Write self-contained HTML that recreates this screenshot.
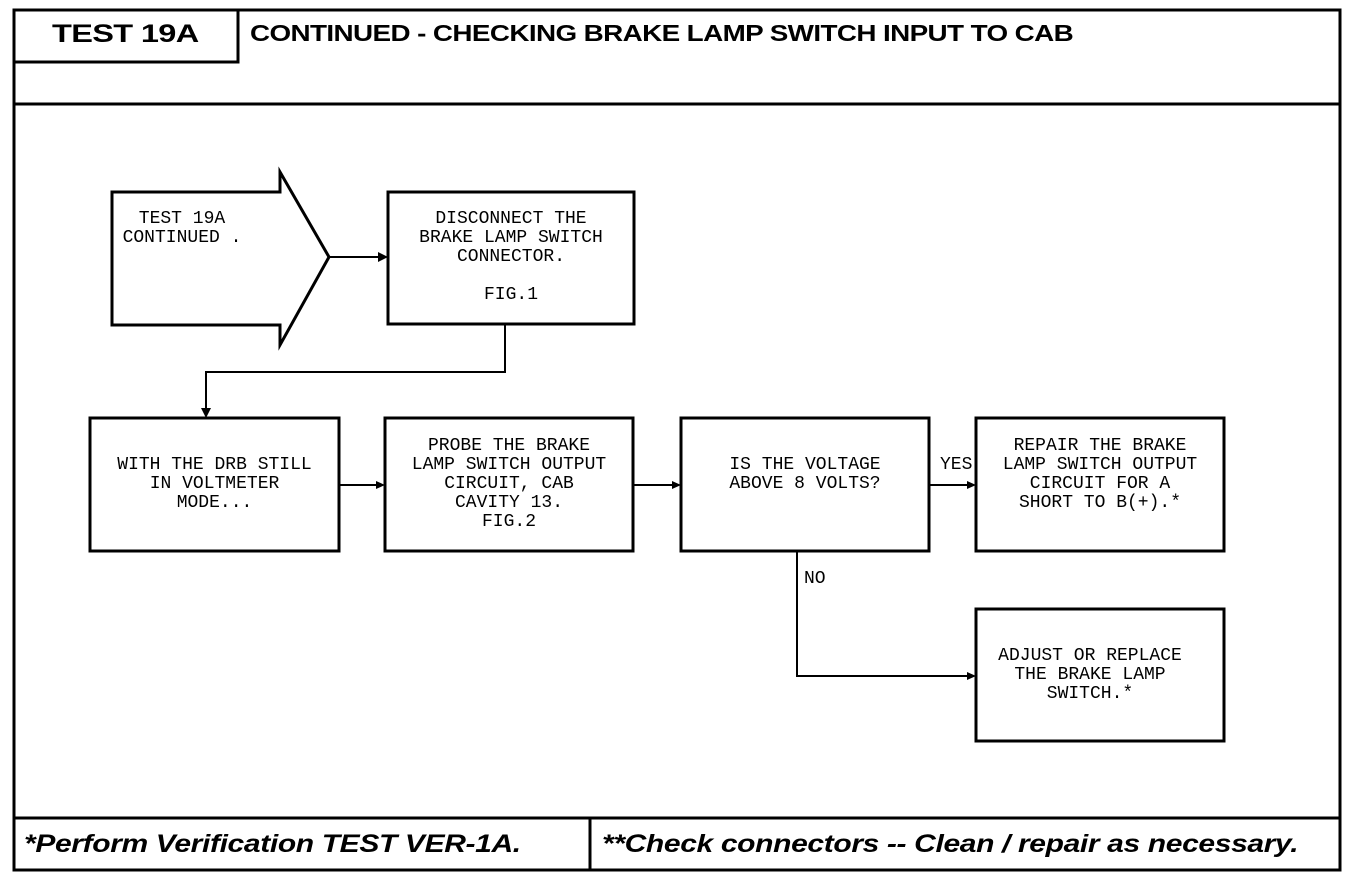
<!DOCTYPE html>
<html><head><style>
body{margin:0;background:#fff;width:1360px;height:880px;overflow:hidden;position:relative;font-family:"Liberation Sans",sans-serif}
.a{position:absolute}
.t{position:absolute;font-family:"Liberation Mono",monospace;font-size:18px;line-height:19px;text-align:center;white-space:pre;color:#000}
.h{font-weight:bold;font-size:25px;letter-spacing:-0.5px;transform-origin:0 0;white-space:nowrap}
.f{font-weight:bold;font-style:italic;font-size:25px;letter-spacing:-0.3px;transform-origin:0 0;white-space:nowrap}
</style></head><body>
<svg class="a" style="left:0;top:0" width="1360" height="880">
<g fill="none" stroke="#000" stroke-width="3">
<rect x="14" y="10" width="1326" height="860"/>
<polyline points="14,62 238,62 238,10"/>
<line x1="14" y1="104" x2="1340" y2="104"/>
<line x1="14" y1="818" x2="1340" y2="818"/>
<line x1="590" y1="818" x2="590" y2="870"/>
<polygon points="112,192 280,192 280,172 329,257 280,345 280,325 112,325"/>
<rect x="388" y="192" width="246" height="132"/>
<rect x="90" y="418" width="249" height="133"/>
<rect x="385" y="418" width="248" height="133"/>
<rect x="681" y="418" width="248" height="133"/>
<rect x="976" y="418" width="248" height="133"/>
<rect x="976" y="609" width="248" height="132"/>
</g>
<g fill="none" stroke="#000" stroke-width="2">
<line x1="329" y1="257" x2="380" y2="257"/>
<polyline points="505,324 505,372 206,372 206,412"/>
<line x1="339" y1="485" x2="378" y2="485"/>
<line x1="633" y1="485" x2="674" y2="485"/>
<line x1="929" y1="485" x2="969" y2="485"/>
<polyline points="797,551 797,676 969,676"/>
</g>
<g fill="#000">
<polygon points="388,257 378,252 378,262"/>
<polygon points="206,418 201,408 211,408"/>
<polygon points="385,485 376,481 376,489"/>
<polygon points="681,485 672,481 672,489"/>
<polygon points="976,485 967,481 967,489"/>
<polygon points="976,676 967,672 967,680"/>
</g>
</svg>
<div class="a h" style="left:52px;top:20px;transform:scaleX(1.3)">TEST 19A</div>
<div class="a h" style="left:250px;top:20px;font-size:23px;transform:scaleX(1.21)">CONTINUED -  CHECKING BRAKE LAMP SWITCH INPUT TO CAB</div>
<div class="t" style="left:112px;top:210px;width:140px">TEST 19A
CONTINUED .</div>
<div class="t" style="left:388px;top:210px;width:246px">DISCONNECT THE
BRAKE LAMP SWITCH
CONNECTOR.

FIG.1</div>
<div class="t" style="left:90px;top:456px;width:249px">WITH THE DRB STILL
IN VOLTMETER
MODE...</div>
<div class="t" style="left:385px;top:437px;width:248px">PROBE THE BRAKE
LAMP SWITCH OUTPUT
CIRCUIT, CAB
CAVITY 13.
FIG.2</div>
<div class="t" style="left:681px;top:456px;width:248px">IS THE VOLTAGE
ABOVE 8 VOLTS?</div>
<div class="t" style="left:976px;top:437px;width:248px">REPAIR THE BRAKE
LAMP SWITCH OUTPUT
CIRCUIT FOR A
SHORT TO B(+).*</div>
<div class="t" style="left:976px;top:647px;width:228px">ADJUST OR REPLACE
THE BRAKE LAMP
SWITCH.*</div>
<div class="t" style="left:940px;top:456px">YES</div>
<div class="t" style="left:804px;top:570px">NO</div>
<div class="a f" style="left:24px;top:830px;transform:scaleX(1.2)">*Perform Verification TEST VER-1A.</div>
<div class="a f" style="left:602px;top:830px;transform:scaleX(1.2)">**Check connectors -- Clean / repair as necessary.</div>
</body></html>
